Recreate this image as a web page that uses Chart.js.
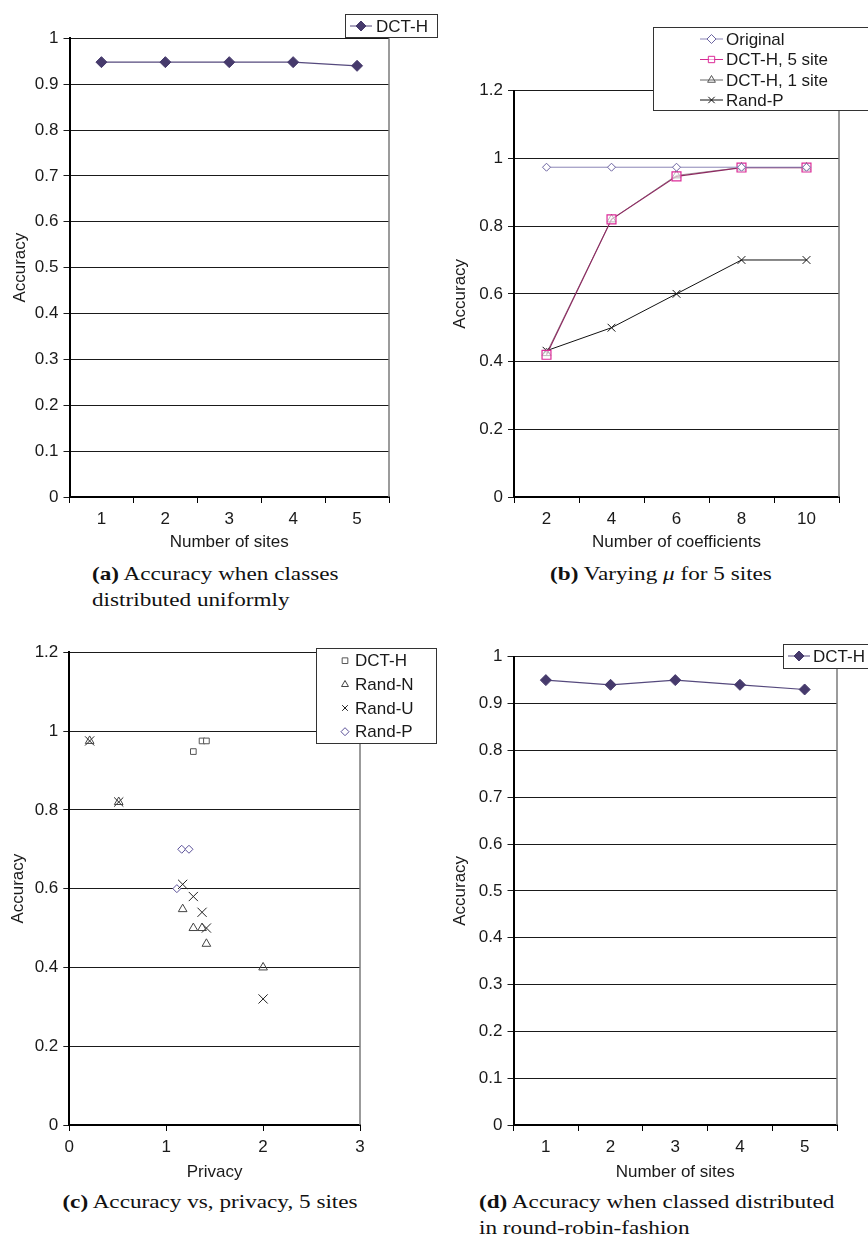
<!DOCTYPE html>
<html>
<head>
<meta charset="utf-8">
<script src="https://cdn.jsdelivr.net/npm/chart.js@4.4.1/dist/chart.umd.min.js"></script>
<style>
  body { margin: 0; background: #fff; width: 868px; height: 1237px; position: relative; overflow: hidden; }
  canvas { position: absolute; }
  .cap { position: absolute; font-family: "Liberation Serif", "Times New Roman", serif; font-size: 19px;
         line-height: 26px; white-space: nowrap; color: #111; transform: scaleX(1.22); }
  .cap i { font-style: italic; }
</style>
</head>
<body>
<canvas id="ca"></canvas>
<canvas id="cb"></canvas>
<canvas id="cc"></canvas>
<canvas id="cd"></canvas>

<div class="cap" style="left:92px;top:561px;transform-origin:left top"><b>(a)</b> Accuracy when classes<br>distributed uniformly</div>
<div class="cap" style="left:461px;top:561px;width:400px;text-align:center;transform-origin:center top"><b>(b)</b> Varying <i>μ</i> for 5 sites</div>
<div class="cap" style="left:10px;top:1189px;width:400px;text-align:center;transform-origin:center top"><b>(c)</b> Accuracy vs, privacy, 5 sites</div>
<div class="cap" style="left:479px;top:1189px;transform-origin:left top"><b>(d)</b> Accuracy when classed distributed<br>in round-robin-fashion</div>

<script>
// ---- data ----
const sites = ['1', '2', '3', '4', '5'];
const uniformDct = [0.948, 0.948, 0.948, 0.948, 0.94];

const coeffs = ['2', '4', '6', '8', '10'];
const original = [0.974, 0.974, 0.974, 0.974, 0.974];
const dct5site = [0.42, 0.82, 0.947, 0.973, 0.973];
const dct1site = [0.425, 0.82, 0.95, 0.973, 0.973];
const randPCoef = [0.432, 0.5, 0.6, 0.7, 0.7];

// privacy vs accuracy, [privacy, accuracy]
const privDct = [[1.28, 0.948], [1.37, 0.975], [1.415, 0.975]];
const privRandN = [[0.21, 0.975], [0.51, 0.82], [1.17, 0.548], [1.28, 0.5], [1.37, 0.5], [1.415, 0.46], [2.0, 0.4]];
const privRandU = [[0.21, 0.975], [0.51, 0.82], [1.17, 0.611], [1.28, 0.58], [1.37, 0.54], [1.415, 0.5], [2.0, 0.32]];
const privRandP = [[1.11, 0.6], [1.16, 0.7], [1.235, 0.7]];

const robinDct = [0.95, 0.94, 0.95, 0.94, 0.93];

const accTicks01 = { min: 0, max: 1, step: 0.1 };
const accTicks02 = { min: 0, max: 1.2, step: 0.2 };

// ---- helpers ----
const FONT = { family: "'Liberation Sans', Arial, sans-serif", size: 17 };
const LH = FONT.size * 1.2;
const TXT = '#1a1a1a';

function toPts(arr) { return arr.map(p => ({ x: p[0], y: p[1] })); }
function shortNum(v) { return String(+Number(v).toFixed(1)); }

function drawMarker(ctx, style, x, y, r, stroke, fill, bw) {
  ctx.beginPath();
  if (style === 'rectRot') {
    ctx.moveTo(x, y - r); ctx.lineTo(x + r, y); ctx.lineTo(x, y + r); ctx.lineTo(x - r, y); ctx.closePath();
  } else if (style === 'rect') {
    const s = r * Math.SQRT1_2;
    ctx.rect(x - s, y - s, 2 * s, 2 * s);
  } else if (style === 'triangle') {
    for (let k = 0; k < 3; k++) {
      const a = k * 2 * Math.PI / 3;
      const px = x + Math.sin(a) * r, py = y - Math.cos(a) * r;
      k ? ctx.lineTo(px, py) : ctx.moveTo(px, py);
    }
    ctx.closePath();
  } else if (style === 'crossRot') {
    const o = r * Math.SQRT1_2;
    ctx.moveTo(x - o, y - o); ctx.lineTo(x + o, y + o);
    ctx.moveTo(x - o, y + o); ctx.lineTo(x + o, y - o);
  }
  if (fill && style !== 'crossRot') { ctx.fillStyle = fill; ctx.fill(); }
  ctx.strokeStyle = stroke; ctx.lineWidth = bw || 1; ctx.stroke();
}

// boxed legend drawn at fixed spots, like the original figure
const boxLegend = {
  id: 'boxLegend',
  afterDraw(chart, args, o) {
    if (!o.box) return;
    const ctx = chart.ctx, ox = o.origin[0], oy = o.origin[1];
    const [bx, by, bw, bh] = o.box;
    ctx.save();
    ctx.fillStyle = '#fff';
    ctx.fillRect(bx - ox, by - oy, bw, bh);
    ctx.strokeStyle = '#333'; ctx.lineWidth = 1;
    ctx.strokeRect(bx - ox + 0.5, by - oy + 0.5, bw, bh);
    chart.data.datasets.forEach((ds, i) => {
      const y = o.rows[i] - oy;
      if (o.line) {
        ctx.beginPath();
        ctx.moveTo(o.line[0] - ox, y); ctx.lineTo(o.line[1] - ox, y);
        ctx.strokeStyle = ds.legendLine || ds.borderColor; ctx.lineWidth = 1; ctx.stroke();
      }
      drawMarker(ctx, ds.pointStyle, o.markX - ox, y, o.markR || ds.pointRadius,
        ds.pointBorderColor, ds.pointBackgroundColor, 1);
      ctx.fillStyle = TXT;
      ctx.font = FONT.size + 'px ' + FONT.family;
      ctx.textAlign = 'left'; ctx.textBaseline = 'middle';
      ctx.fillText(ds.label, o.textX - ox, y + 1);
    });
    ctx.restore();
  }
};

// gray frame line on the right side of the plot
const rightEdge = {
  id: 'rightEdge',
  beforeDatasetsDraw(chart) {
    const a = chart.chartArea, ctx = chart.ctx;
    ctx.save();
    ctx.strokeStyle = '#7a7a7a'; ctx.lineWidth = 1.5;
    ctx.beginPath(); ctx.moveTo(a.right, a.top); ctx.lineTo(a.right, a.bottom); ctx.stroke();
    ctx.restore();
  }
};

function makeChart(id, cv, plot, yTitleX, xTitleY, cfg) {
  const el = document.getElementById(id);
  el.width = cv.w; el.height = cv.h;
  el.style.left = cv.l + 'px'; el.style.top = cv.t + 'px';
  const padLeft = yTitleX - LH / 2 - cv.l;
  const yW = plot.l - cv.l - padLeft;
  const xBottom = xTitleY + LH / 2;
  const xH = xBottom - plot.b;
  const padBottom = cv.t + cv.h - xBottom;

  const yAxis = {
    min: cfg.yr.min, max: cfg.yr.max,
    ticks: { stepSize: cfg.yr.step, color: TXT, font: FONT, padding: 5, callback: shortNum },
    grid: { color: '#1a1a1a', lineWidth: 1, tickLength: 6 },
    border: { color: '#000', width: 2 },
    title: { display: true, text: 'Accuracy', color: TXT, font: FONT, padding: 0 },
    afterFit: s => { s.width = yW; }
  };
  const xAxis = Object.assign({
    grid: { drawOnChartArea: false, tickLength: 6, color: '#000', offset: true },
    border: { color: '#000', width: 2 },
    ticks: { color: TXT, font: FONT, padding: 6, autoSkip: false, maxRotation: 0 },
    title: { display: true, text: cfg.xTitle, color: TXT, font: FONT, padding: 0 },
    afterFit: s => { s.height = xH; }
  }, cfg.x);

  return new Chart(el, {
    type: cfg.type,
    data: cfg.data,
    options: {
      responsive: false,
      animation: false,
      layout: { padding: { left: padLeft, top: plot.t - cv.t, right: cv.l + cv.w - plot.r, bottom: padBottom } },
      scales: { x: xAxis, y: yAxis },
      plugins: {
        legend: { display: false },
        tooltip: { enabled: false },
        boxLegend: Object.assign({ origin: [cv.l, cv.t] }, cfg.legend)
      }
    },
    plugins: [rightEdge, boxLegend]
  });
}

const dctStyle = {
  borderColor: '#55497d', borderWidth: 1.2, pointStyle: 'rectRot', pointRadius: 5.5,
  pointBorderColor: '#463a6c', pointBackgroundColor: '#463a6c', pointBorderWidth: 1
};

// (a)
makeChart('ca', { l: 0, t: 0, w: 440, h: 560 }, { l: 69.5, t: 38.3, r: 389, b: 497 }, 20, 542, {
  type: 'line', xTitle: 'Number of sites', yr: accTicks01,
  x: { type: 'category', offset: true },
  data: { labels: sites, datasets: [Object.assign({ label: 'DCT-H', data: uniformDct }, dctStyle)] },
  legend: { box: [345, 14, 92, 23], rows: [26], line: [350, 372], markX: 361, markR: 5, textX: 376 }
});

// (b)
makeChart('cb', { l: 440, t: 0, w: 428, h: 560 }, { l: 514, t: 90.7, r: 839, b: 497 }, 460, 542, {
  type: 'line', xTitle: 'Number of coefficients', yr: accTicks02,
  x: { type: 'category', offset: true },
  data: {
    labels: coeffs,
    datasets: [
      { label: 'Original', data: original, borderColor: '#8b85b6', borderWidth: 1, pointStyle: 'rectRot',
        pointRadius: 4, pointBorderColor: '#6b63a0', pointBackgroundColor: '#fff', pointBorderWidth: 1 },
      { label: 'DCT-H, 5 site', data: dct5site, borderColor: '#8e2a62', legendLine: '#d42a93', borderWidth: 1.2,
        pointStyle: 'rect', pointRadius: 6.3, pointBorderColor: '#dc2a98', pointBackgroundColor: 'rgba(255,255,255,0.6)', pointBorderWidth: 1.2 },
      { label: 'DCT-H, 1 site', data: dct1site, borderColor: 'rgba(90,80,80,0.55)', legendLine: '#666', borderWidth: 1,
        pointStyle: 'triangle', pointRadius: 5, pointBorderColor: '#555', pointBackgroundColor: 'rgba(255,255,255,0)', pointBorderWidth: 1 },
      { label: 'Rand-P', data: randPCoef, borderColor: '#111', borderWidth: 1, pointStyle: 'crossRot',
        pointRadius: 5.5, pointBorderColor: '#111', pointBackgroundColor: '#111', pointBorderWidth: 1 }
    ]
  },
  legend: { box: [653, 27, 216, 83], rows: [39, 59.5, 80, 100], line: [700, 723], markX: 711.5, markR: 4.5, textX: 726 }
});

// (c)
makeChart('cc', { l: 0, t: 620, w: 440, h: 566 }, { l: 69.3, t: 652.3, r: 360, b: 1125 }, 18.5, 1172, {
  type: 'scatter', xTitle: 'Privacy', yr: accTicks02,
  x: { type: 'linear', min: 0, max: 3, ticks: { stepSize: 1, color: TXT, font: FONT, padding: 6, maxRotation: 0 },
       grid: { drawOnChartArea: false, tickLength: 6, color: '#000' } },
  data: {
    datasets: [
      { label: 'DCT-H', data: toPts(privDct), pointStyle: 'rect', pointRadius: 4,
        pointBorderColor: '#555', pointBackgroundColor: '#fff', pointBorderWidth: 1 },
      { label: 'Rand-N', data: toPts(privRandN), pointStyle: 'triangle', pointRadius: 5,
        pointBorderColor: '#444', pointBackgroundColor: 'rgba(255,255,255,0)', pointBorderWidth: 1 },
      { label: 'Rand-U', data: toPts(privRandU), pointStyle: 'crossRot', pointRadius: 6.5,
        pointBorderColor: '#222', pointBackgroundColor: '#222', pointBorderWidth: 1 },
      { label: 'Rand-P', data: toPts(privRandP), pointStyle: 'rectRot', pointRadius: 4,
        pointBorderColor: '#5b5199', pointBackgroundColor: '#fff', pointBorderWidth: 1 }
    ]
  },
  legend: { box: [316, 648, 120, 95], rows: [660.7, 684.5, 708, 731.7], markX: 345, markR: 4, textX: 355 }
});

// (d)
makeChart('cd', { l: 440, t: 620, w: 428, h: 566 }, { l: 513.5, t: 656.7, r: 837, b: 1125 }, 460, 1172, {
  type: 'line', xTitle: 'Number of sites', yr: accTicks01,
  x: { type: 'category', offset: true },
  data: { labels: sites, datasets: [Object.assign({ label: 'DCT-H', data: robinDct }, dctStyle)] },
  legend: { box: [783, 644, 92, 24], rows: [656], line: [788, 810], markX: 799, markR: 5, textX: 813 }
});
</script>
</body>
</html>
